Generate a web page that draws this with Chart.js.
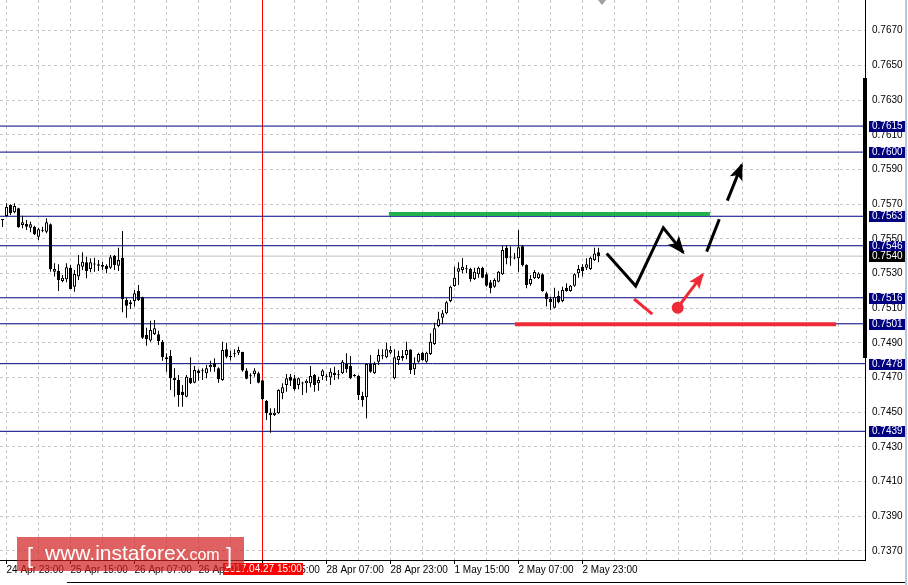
<!DOCTYPE html>
<html>
<head>
<meta charset="utf-8">
<script src="https://cdn.jsdelivr.net/npm/chart.js@4.4.0/dist/chart.umd.min.js"></script>
<style>
  html, body { margin: 0; padding: 0; background: #fff; }
  #wrap { width: 908px; height: 585px; }
</style>
</head>
<body>
<div id="wrap"><canvas id="myChart" width="908" height="585"></canvas></div>
<script>
// AUD/USD H1 candles, 24 Apr 22:00 .. 3 May 03:00
var opens = [
  0.75610,0.75632,0.75695,0.75653,0.75676,0.75580,0.75585,0.75564,0.75570,0.75512,
  0.75548,0.75541,0.75584,0.75310,0.75314,0.75257,0.75267,0.75333,0.75224,0.75282,
  0.75339,0.75365,0.75326,0.75354,0.75353,0.75349,0.75345,0.75333,0.75403,0.75345,
  0.75391,0.75147,0.75122,0.75141,0.75199,0.75165,0.74945,0.74913,0.74951,0.74949,
  0.74907,0.74805,0.74824,0.74686,0.74686,0.74618,0.74590,0.74699,0.74670,0.74740,
  0.74739,0.74725,0.74759,0.74782,0.74753,0.74686,0.74863,0.74821,0.74837,0.74843,
  0.74848,0.74740,0.74710,0.74721,0.74725,0.74685,0.74565,0.74497,0.74484,0.74494,
  0.74609,0.74657,0.74705,0.74696,0.74657,0.74668,0.74667,0.74667,0.74715,0.74667,
  0.74709,0.74706,0.74701,0.74728,0.74716,0.74725,0.74778,0.74767,0.74709,0.74709,
  0.74594,0.74586,0.74778,0.74725,0.74791,0.74825,0.74817,0.74843,0.74696,0.74801,
  0.74824,0.74830,0.74862,0.74748,0.74791,0.74843,0.74791,0.74836,0.74894,0.74997,
  0.75045,0.75071,0.75141,0.75228,0.75310,0.75320,0.75327,0.75326,0.75268,0.75295,
  0.75333,0.75295,0.75249,0.75224,0.75253,0.75295,0.75449,0.75394,0.75389,0.75388,
  0.75457,0.75349,0.75239,0.75272,0.75274,0.75295,0.75186,0.75153,0.75103,0.75172,
  0.75141,0.75218,0.75199,0.75230,0.75301,0.75339,0.75333,0.75326,0.75378,0.75422
];
var highs = [
  0.75614,0.75705,0.75699,0.75705,0.75679,0.75633,0.75608,0.75599,0.75576,0.75564,
  0.75570,0.75618,0.75589,0.75359,0.75353,0.75291,0.75359,0.75349,0.75320,0.75407,
  0.75422,0.75397,0.75388,0.75391,0.75378,0.75368,0.75353,0.75407,0.75407,0.75449,
  0.75545,0.75160,0.75147,0.75205,0.75234,0.75166,0.74987,0.75028,0.75032,0.74970,
  0.74917,0.74840,0.74859,0.74753,0.74715,0.74657,0.74715,0.74817,0.74767,0.74748,
  0.74753,0.74772,0.74797,0.74811,0.74759,0.74907,0.74901,0.74855,0.74863,0.74878,
  0.74849,0.74753,0.74725,0.74753,0.74734,0.74686,0.74571,0.74523,0.74523,0.74632,
  0.74667,0.74721,0.74721,0.74715,0.74701,0.74676,0.74690,0.74767,0.74721,0.74705,
  0.74748,0.74721,0.74753,0.74763,0.74744,0.74801,0.74840,0.74824,0.74721,0.74715,
  0.74618,0.74782,0.74830,0.74791,0.74863,0.74863,0.74901,0.74882,0.74863,0.74855,
  0.74859,0.74907,0.74863,0.74817,0.74843,0.74849,0.74849,0.74955,0.75016,0.75080,
  0.75090,0.75141,0.75230,0.75339,0.75365,0.75388,0.75349,0.75333,0.75333,0.75339,
  0.75339,0.75307,0.75263,0.75272,0.75314,0.75460,0.75464,0.75455,0.75418,0.75551,
  0.75464,0.75353,0.75291,0.75320,0.75307,0.75301,0.75195,0.75166,0.75218,0.75199,
  0.75224,0.75244,0.75234,0.75301,0.75349,0.75353,0.75388,0.75397,0.75449,0.75449
];
var lows = [
  0.75568,0.75628,0.75637,0.75647,0.75564,0.75561,0.75551,0.75538,0.75522,0.75493,
  0.75538,0.75532,0.75310,0.75282,0.75199,0.75249,0.75249,0.75209,0.75195,0.75263,
  0.75320,0.75272,0.75307,0.75310,0.75314,0.75320,0.75301,0.75326,0.75320,0.75314,
  0.75076,0.75045,0.75095,0.75109,0.75141,0.74922,0.74884,0.74907,0.74945,0.74888,
  0.74797,0.74734,0.74628,0.74590,0.74532,0.74532,0.74586,0.74663,0.74667,0.74682,
  0.74686,0.74696,0.74734,0.74734,0.74670,0.74682,0.74811,0.74799,0.74817,0.74830,
  0.74734,0.74690,0.74663,0.74705,0.74667,0.74571,0.74455,0.74382,0.74478,0.74490,
  0.74575,0.74618,0.74651,0.74624,0.74632,0.74599,0.74613,0.74644,0.74618,0.74624,
  0.74686,0.74682,0.74657,0.74686,0.74690,0.74721,0.74728,0.74690,0.74705,0.74571,
  0.74532,0.74465,0.74728,0.74721,0.74772,0.74805,0.74811,0.74836,0.74690,0.74772,
  0.74797,0.74805,0.74721,0.74715,0.74786,0.74797,0.74786,0.74830,0.74888,0.74990,
  0.75007,0.75065,0.75134,0.75224,0.75234,0.75301,0.75301,0.75253,0.75263,0.75276,
  0.75272,0.75224,0.75186,0.75218,0.75249,0.75291,0.75353,0.75345,0.75382,0.75310,
  0.75340,0.75215,0.75230,0.75268,0.75268,0.75195,0.75109,0.75090,0.75099,0.75128,
  0.75134,0.75195,0.75195,0.75224,0.75276,0.75282,0.75320,0.75320,0.75372,0.75365
];
var closes = [
  0.75608,0.75685,0.75647,0.75689,0.75566,0.75595,0.75570,0.75584,0.75526,0.75555,
  0.75546,0.75595,0.75324,0.75326,0.75263,0.75276,0.75336,0.75211,0.75297,0.75353,
  0.75368,0.75314,0.75365,0.75352,0.75345,0.75339,0.75326,0.75393,0.75349,0.75378,
  0.75153,0.75114,0.75134,0.75186,0.75147,0.74930,0.74922,0.74974,0.74984,0.74911,
  0.74817,0.74817,0.74696,0.74699,0.74599,0.74599,0.74705,0.74667,0.74744,0.74725,
  0.74737,0.74753,0.74772,0.74759,0.74690,0.74859,0.74820,0.74819,0.74835,0.74859,
  0.74740,0.74693,0.74708,0.74740,0.74670,0.74575,0.74494,0.74484,0.74497,0.74628,
  0.74644,0.74696,0.74682,0.74632,0.74696,0.74666,0.74682,0.74709,0.74657,0.74686,
  0.74740,0.74704,0.74734,0.74715,0.74714,0.74791,0.74748,0.74696,0.74715,0.74599,
  0.74571,0.74778,0.74734,0.74778,0.74830,0.74823,0.74863,0.74859,0.74817,0.74824,
  0.74811,0.74859,0.74744,0.74782,0.74836,0.74801,0.74843,0.74907,0.74984,0.75036,
  0.75071,0.75134,0.75224,0.75276,0.75330,0.75339,0.75325,0.75268,0.75310,0.75333,
  0.75276,0.75230,0.75215,0.75263,0.75310,0.75436,0.75388,0.75392,0.75387,0.75451,
  0.75347,0.75234,0.75268,0.75309,0.75300,0.75199,0.75153,0.75134,0.75166,0.75134,
  0.75205,0.75199,0.75230,0.75295,0.75326,0.75314,0.75353,0.75391,0.75416,0.75400
];

// time axis labels (bar index -> text)
var tickIndex = [1, 17, 33, 49, 65, 81, 97, 113, 129, 145];
var tickLabels = ["24 Apr 23:00", "25 Apr 15:00", "26 Apr 07:00", "26 Apr 23:00", "27 Apr 15:00",
                  "28 Apr 07:00", "28 Apr 23:00", "1 May 15:00", "2 May 07:00", "2 May 23:00"];
var priceTicks = [0.7370, 0.7390, 0.7410, 0.7430, 0.7450, 0.7470, 0.7490, 0.7510,
                  0.7530, 0.7550, 0.7570, 0.7590, 0.7610, 0.7630, 0.7650, 0.7670];

// horizontal levels and current bid
var levels = [0.7615, 0.7600, 0.7563, 0.7546, 0.7516, 0.7501, 0.7478, 0.7439];
var bidPrice = 0.7540;
var markerIndex = 65;
var markerLabel = "2017.04.27 15:00";

// hand drawn forecast lines [bar index, price]
var greenLine = [[96.6, 0.75643], [176.9, 0.75643]];
var redLine = [[128.1, 0.75007], [208.4, 0.75007]];
var zigzag = [[151.05, 0.75416], [158.3, 0.75228], [165.2, 0.75564], [170.2, 0.75420]];
var breakout = [[176.05, 0.75426], [179.2, 0.75613]];
var upArrow = [[181.2, 0.75720], [184.8, 0.75926]];
var redTick = [[157.9, 0.75153], [162.45, 0.75066]];
var redArrow = [[168.8, 0.75103], [175.05, 0.75295]];

var xMin = -0.625, xMax = 215.625;
var yMin = 0.73648, yMax = 0.76877;
var FONT = "Liberation Sans";

function pts(a) { return a.map(function (p) { return { x: p[0], y: p[1] }; }); }

function hline(v, color, order) {
  return {
    type: "line", data: [{ x: xMin, y: v }, { x: xMax, y: v }],
    borderColor: color, borderWidth: 1, pointRadius: 0, order: order
  };
}

function drawLine(a, color, width, arrow) {
  return {
    type: "line", data: pts(a), borderColor: color, borderWidth: width,
    pointRadius: 0, tension: 0, borderJoinStyle: "miter", order: 0, arrowSize: arrow || 0
  };
}

function showChart() {
  var gridX = [];
  for (var k = 1; k < xMax; k += 8) gridX.push(k);

  var wickData = highs.map(function (h, i) { return { x: i, y: [lows[i], h] }; });
  var bodyData = opens.map(function (o, i) { return { x: i, y: [o, closes[i]] }; });
  var bodyColors = opens.map(function (o, i) { return closes[i] >= o ? "#ffffff" : "#000000"; });

  var datasets = [
    {
      type: "bar", data: bodyData, backgroundColor: bodyColors, borderColor: "#000000",
      borderWidth: 1, borderSkipped: false, barThickness: 3, minBarLength: 1,
      grouped: false, inflateAmount: 0, order: 1
    },
    {
      type: "bar", data: wickData, backgroundColor: "#000000", borderWidth: 0,
      barThickness: 1, grouped: false, inflateAmount: 0, order: 2
    }
  ];
  levels.forEach(function (v) { datasets.push(hline(v, "#000080", 10)); });
  datasets.push(hline(bidPrice, "#c0c0c0", 11));
  datasets.push({
    type: "line", data: [{ x: markerIndex, y: yMin }, { x: markerIndex, y: yMax }],
    borderColor: "#ff0000", borderWidth: 1, pointRadius: 0, order: 10
  });
  datasets.push(drawLine(greenLine, "#22b14c", 4));
  datasets.push(drawLine(redLine, "#ee2a36", 4));
  datasets.push(drawLine(zigzag, "#000000", 3, 16));
  datasets.push(drawLine(breakout, "#000000", 3));
  datasets.push(drawLine(upArrow, "#000000", 3, 15));
  datasets.push(drawLine(redTick, "#ee2a36", 3));
  var ra = drawLine(redArrow, "#ee2a36", 3, 14);
  ra.pointRadius = [6, 0];
  ra.pointBackgroundColor = "#ee2a36";
  ra.pointBorderWidth = 0;
  datasets.push(ra);

  var overlay = {
    id: "overlay",
    afterDatasetsDraw: function (chart) {
      var ctx = chart.ctx;
      chart.data.datasets.forEach(function (ds, n) {
        if (!ds.arrowSize) return;
        var el = chart.getDatasetMeta(n).data;
        var a = el[el.length - 2], b = el[el.length - 1];
        var ang = Math.atan2(b.y - a.y, b.x - a.x), L = ds.arrowSize;
        ctx.save();
        ctx.translate(b.x, b.y);
        ctx.rotate(ang);
        ctx.fillStyle = ds.borderColor;
        ctx.beginPath();
        ctx.moveTo(2, 0);
        ctx.lineTo(-L, -L * 0.45);
        ctx.lineTo(-L * 0.75, 0);
        ctx.lineTo(-L, L * 0.45);
        ctx.closePath();
        ctx.fill();
        ctx.restore();
      });
    },
    afterDraw: function (chart) {
      var ctx = chart.ctx, ys = chart.scales.y, xs = chart.scales.x, area = chart.chartArea;
      ctx.save();
      // bar beside price scale
      ctx.fillStyle = "#000";
      ctx.fillRect(863, 78, 4, 280);
      // chart shift marker
      ctx.fillStyle = "#a0a0a0";
      ctx.beginPath(); ctx.moveTo(598, 0); ctx.lineTo(606, 0); ctx.lineTo(602, 5); ctx.closePath(); ctx.fill();

      // level tags on the price scale
      ctx.font = "10px '" + FONT + "'";
      ctx.textBaseline = "middle";
      ctx.textAlign = "left";
      function tag(v, bg) {
        var y = Math.round(ys.getPixelForValue(v));
        ctx.fillStyle = bg;
        ctx.fillRect(869, y - 5, 36, 11);
        ctx.fillStyle = "#fff";
        ctx.fillText(v.toFixed(4), 872, y + 0.5);
      }
      levels.forEach(function (v) { tag(v, "#000080"); });
      tag(bidPrice, "#000000");

      // time marker tag
      var mx = Math.round(xs.getPixelForValue(markerIndex));
      ctx.fillStyle = "#ff0000";
      ctx.fillRect(mx - 40, 563, 80, 12);
      ctx.fillStyle = "#fff";
      ctx.textAlign = "center";
      ctx.fillText(markerLabel, mx, 569.5);

      // window frame
      ctx.fillStyle = "#000";
      ctx.fillRect(67, 582, 838, 1);
      ctx.fillStyle = "#b4c8dc";
      ctx.fillRect(905, 0, 2, 585);

      // watermark
      ctx.fillStyle = "rgba(210,30,30,0.7)";
      ctx.fillRect(17, 537, 227, 34);
      ctx.fillStyle = "#fff";
      ctx.textAlign = "left";
      ctx.textBaseline = "alphabetic";
      ctx.font = "22px '" + FONT + "'";
      ctx.fillText("[", 27, 563);
      ctx.fillText("]", 226, 563);
      ctx.font = "21px '" + FONT + "'";
      ctx.fillText("www.instaforex", 45, 560);
      ctx.font = "16px '" + FONT + "'";
      ctx.fillText(".com", 185, 560);
      ctx.restore();
    }
  };

  new Chart("myChart", {
    type: "bar",
    data: { datasets: datasets },
    options: {
      responsive: false,
      animation: false,
      events: [],
      layout: { padding: 0, autoPadding: false },
      plugins: { legend: { display: false }, tooltip: { enabled: false } },
      scales: {
        x: {
          type: "linear", min: xMin, max: xMax, offset: false,
          afterBuildTicks: function (s) { s.ticks = gridX.map(function (v) { return { value: v }; }); },
          afterFit: function (s) { s.height = 25; s.paddingLeft = 0; s.paddingRight = 0; },
          grid: {
            color: "#c8c8c8", offset: false, drawTicks: true, tickLength: 4,
            tickColor: function (c) { return c.tick && tickIndex.indexOf(c.tick.value) >= 0 ? "#000" : "rgba(0,0,0,0)"; }
          },
          border: { display: true, color: "#000", width: 1, dash: [3, 3] },
          ticks: {
            autoSkip: false, maxRotation: 0, minRotation: 0, align: "start", padding: 0,
            color: "#000", font: { family: FONT, size: 10 },
            callback: function (v) { var k = tickIndex.indexOf(v); return k < 0 ? "" : tickLabels[k]; }
          }
        },
        y: {
          type: "linear", position: "right", min: yMin, max: yMax,
          afterBuildTicks: function (s) { s.ticks = priceTicks.map(function (v) { return { value: v }; }); },
          afterFit: function (s) { s.width = 43; s.paddingTop = 0; s.paddingBottom = 0; },
          grid: { color: "#c8c8c8", drawTicks: false },
          border: { display: true, color: "#000", width: 1, dash: [3, 3] },
          ticks: {
            padding: 7, color: "#000", font: { family: FONT, size: 10 },
            callback: function (v) { return Number(v).toFixed(4); }
          }
        }
      }
    },
    plugins: [overlay]
  });
}

window.addEventListener("load", showChart);
</script>
</body>
</html>
